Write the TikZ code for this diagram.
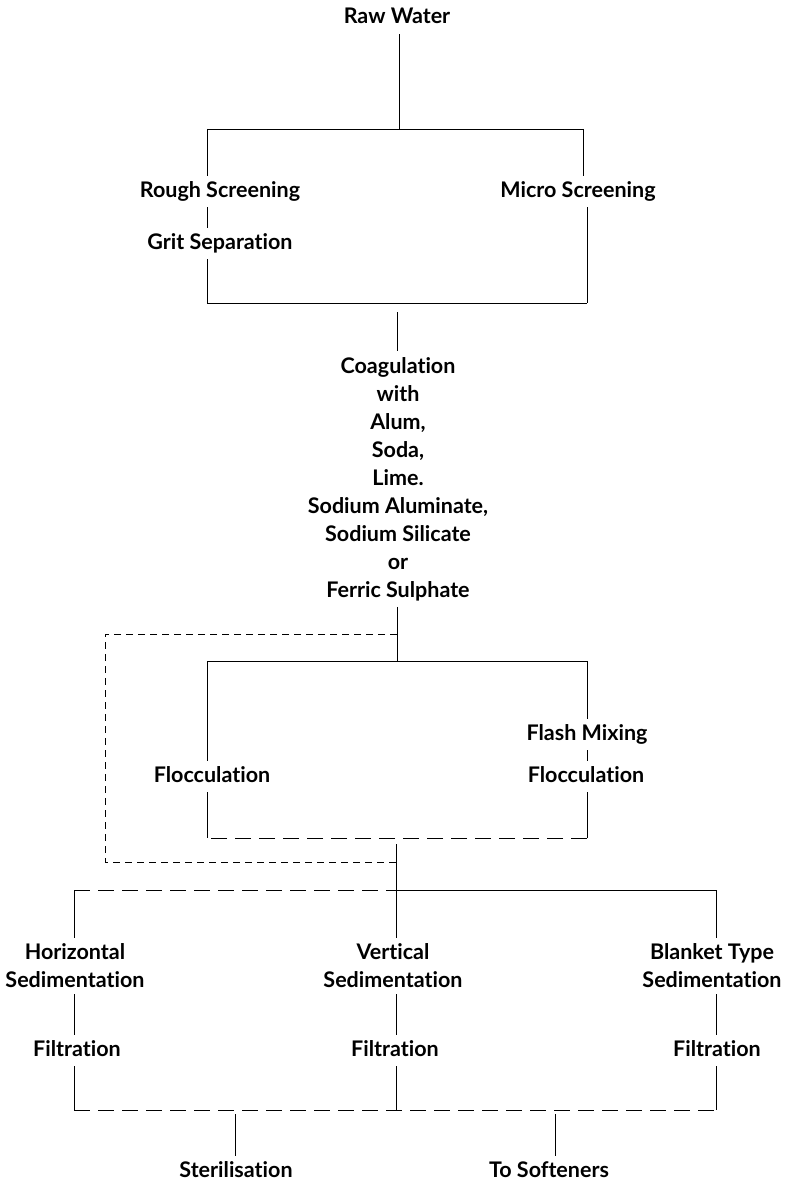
\documentclass[tikz,border=0pt]{standalone}
\usepackage{fontspec}
\setmainfont{Lato}[Ligatures={NoCommon}]
\begin{document}
\begin{tikzpicture}[x=1pt,y=-1pt,
  lbl/.style={inner xsep=2pt, inner ysep=6pt, text height=15pt, text depth=4pt, anchor=base, font=\fontsize{21.5}{28}\selectfont\bfseries},
  mlbl/.style={inner xsep=2pt, inner ysep=6pt, align=center, font=\fontsize{21.5}{28}\selectfont\bfseries},
  conn/.style={line width=0.9pt},
  brk/.style={conn, dash pattern=on 16pt off 8pt},
  byp/.style={conn, dash pattern=on 7pt off 5pt}]
\useasboundingbox (0,0) rectangle (788,1180);

% labels
\node[lbl] (raw) at (397,24) {Raw Water};
\node[lbl] (rough) at (220,197) {Rough Screening};
\node[lbl] (grit) at (220,249) {Grit Separation};
\node[lbl] (micro) at (578,197) {Micro Screening};
\node[mlbl] (coag) at (398,479) {Coagulation\\with\\Alum,\\Soda,\\Lime.\\Sodium Aluminate,\\Sodium Silicate\\or\\Ferric Sulphate};
\node[lbl] (floc1) at (212,782) {Flocculation};
\node[lbl] (flash) at (587,740) {Flash Mixing};
\node[lbl] (floc2) at (586,782) {Flocculation};
\node[mlbl] (hsed) at (75,966) {Horizontal\\Sedimentation};
\node[mlbl] (vsed) at (393,966) {Vertical\\Sedimentation};
\node[mlbl] (bsed) at (712,966) {Blanket Type\\Sedimentation};
\node[lbl] (hfil) at (77,1056) {Filtration};
\node[lbl] (vfil) at (395,1056) {Filtration};
\node[lbl] (bfil) at (717,1056) {Filtration};
\node[lbl] (ster) at (236,1177) {Sterilisation};
\node[lbl] (soft) at (549,1177) {To Softeners};

% junction coordinates
\coordinate (t1L) at (207,129);
\coordinate (t1M) at (399,129);
\coordinate (t1R) at (583,129);
\coordinate (b1L) at (207,303);
\coordinate (b1R) at (587,303);
\coordinate (b1M) at (397,312);
\coordinate (t2L) at (207,661);
\coordinate (t2M) at (397,661);
\coordinate (t2R) at (587,661);
\coordinate (b2L) at (207,838);
\coordinate (b2R) at (587,838);
\coordinate (b2M) at (396,844);
\coordinate (byJ) at (397,634);
\coordinate (byT) at (105,634);
\coordinate (byB) at (105,862);
\coordinate (byJ2) at (396,862);
\coordinate (t3L) at (74,890);
\coordinate (t3M) at (396,890);
\coordinate (t3R) at (716,890);
\coordinate (b3L) at (74,1110);
\coordinate (b3M) at (396,1110);
\coordinate (b3R) at (716,1110);
\coordinate (b3S) at (235,1114);
\coordinate (b3T) at (555,1114);

% box 1
\draw[conn] (raw.south -| t1M) -- (t1M);
\draw[conn] (t1L) -- (t1R);
\draw[conn] (t1L) -- (rough.north -| t1L);
\draw[conn] (rough.south -| b1L) -- (grit.north -| b1L);
\draw[conn] (grit.south -| b1L) -- (b1L);
\draw[conn] (t1R) -- (micro.north -| t1R);
\draw[conn] (micro.south -| b1R) -- (b1R);
\draw[conn] (b1L) -- (b1R);

% coagulation
\draw[conn] (b1M) -- (coag.north -| b1M);
\draw[conn] (coag.south -| t2M) -- (t2M);

% bypass
\draw[byp] (byJ) -- (byT) -- (byB) -- (byJ2);

% box 2
\draw[conn] (t2L) -- (t2R);
\draw[conn] (t2L) -- (floc1.north -| t2L);
\draw[conn] (floc1.south -| b2L) -- (b2L);
\draw[conn] (t2R) -- (flash.north -| t2R);
\draw[conn] (flash.south -| t2R) -- (floc2.north -| t2R);
\draw[conn] (floc2.south -| b2R) -- (b2R);
\draw[brk] (b2R) -- (b2L);
\draw[conn] (b2M) -- (t3M);

% box 3
\draw[brk] (t3L) -- (t3M);
\draw[conn] (t3M) -- (t3R);
\draw[conn] (t3L) -- (hsed.north -| t3L);
\draw[conn] (hsed.south -| t3L) -- (hfil.north -| t3L);
\draw[conn] (hfil.south -| b3L) -- (b3L);
\draw[conn] (t3M) -- (vsed.north -| t3M);
\draw[conn] (vsed.south -| b3M) -- (vfil.north -| b3M);
\draw[conn] (vfil.south -| b3M) -- (b3M);
\draw[conn] (t3R) -- (bsed.north -| t3R);
\draw[conn] (bsed.south -| t3R) -- (bfil.north -| t3R);
\draw[conn] (bfil.south -| b3R) -- (b3R);
\draw[brk] (b3L) -- (b3R);

% outputs
\draw[conn] (b3S) -- (ster.north -| b3S);
\draw[conn] (b3T) -- (soft.north -| b3T);
\end{tikzpicture}
\end{document}
